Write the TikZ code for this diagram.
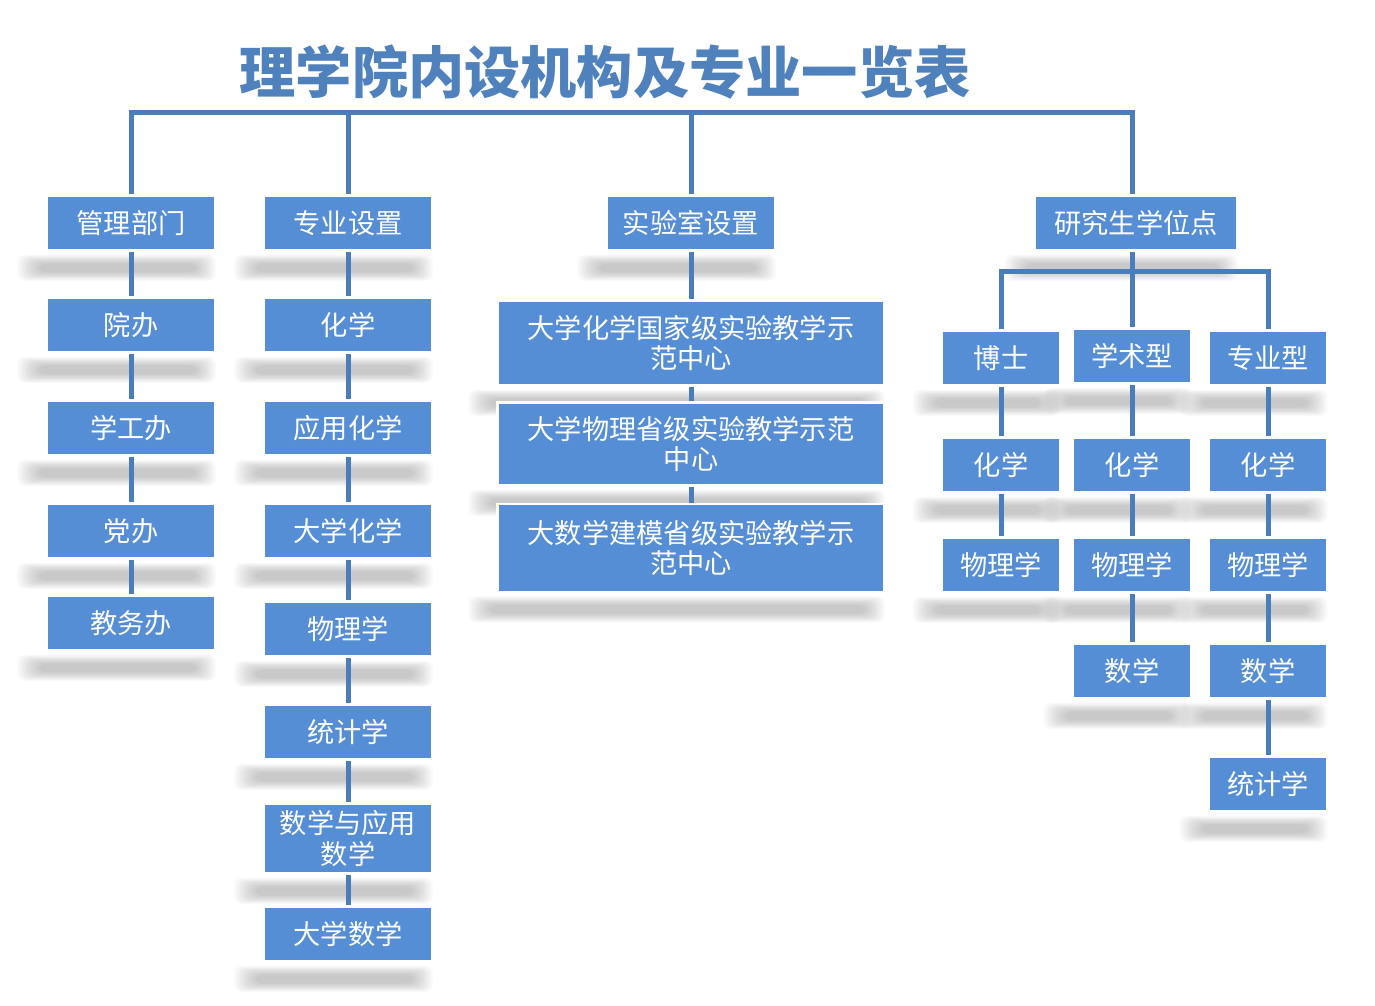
\documentclass[tikz,border=0pt]{standalone}
\usepackage{fontspec}
\setmainfont{Noto Sans CJK SC}
\usepackage{tikz}
\usetikzlibrary{calc,positioning,backgrounds}

\definecolor{boxblue}{HTML}{558ED5}
\definecolor{lineblue}{HTML}{4A7EBB}
\definecolor{titleblue}{HTML}{4F81BD}

\tikzset{
    unit/.style={draw=white, line width=1.6pt, fill=boxblue, text=white, inner sep=0pt,
        minimum width=3.38cm, minimum height=1.1cm, align=center,
        font=\fontsize{15.5}{17.6}\selectfont},
    wide/.style={unit, minimum width=7.74cm},
    small/.style={unit, minimum width=2.36cm},
    conn/.style={lineblue, line width=0.1cm},
}

\newcommand{\boxshadow}[1]{%
    \foreach \k in {0,...,11}
        \fill[black, opacity=0.021, rounded corners=4pt]
            ($(#1.south west)+(-28+2*\k,3+0.8*\k)$) rectangle
            ($(#1.south east)+(-1-1.8*\k,29-0.8*\k)$);
}

\begin{document}
\begin{tikzpicture}[x=0.02cm,y=-0.02cm]
            \useasboundingbox (0,0) rectangle (1375,1006);

            % title
            \node[text=titleblue, font=\fontsize{32}{36}\selectfont\bfseries] (title) at (605,72) {理学院内设机构及专业一览表};

            % management
            \node[unit] (glbm) at (131,223) {管理部门};
            \node[unit] (yb) at (131,325) {院办};
            \node[unit] (xgb) at (131,428) {学工办};
            \node[unit] (db) at (131,531) {党办};
            \node[unit] (jwb) at (131,623) {教务办};

            % majors
            \node[unit] (zysz) at (348,223) {专业设置};
            \node[unit] (hx) at (348,325) {化学};
            \node[unit] (yyhx) at (348,428) {应用化学};
            \node[unit] (dxhx) at (348,531) {大学化学};
            \node[unit] (wlx) at (348,629) {物理学};
            \node[unit] (tjx) at (348,732) {统计学};
            \node[unit, minimum height=1.4cm] (sxyy) at (348,838.5) {数学与应用\\数学};
            \node[unit] (dxsx) at (348,934) {大学数学};

            % labs
            \node[unit] (sys) at (691,223) {实验室设置};
            \node[wide, minimum height=1.7cm] (syone) at (691,343) {大学化学国家级实验教学示\\范中心};
            \node[wide, minimum height=1.66cm] (sytwo) at (691,444) {大学物理省级实验教学示范\\中心};
            \node[wide, minimum height=1.76cm] (sythree) at (691,548) {大数学建模省级实验教学示\\范中心};

            % graduate
            \node[unit, minimum width=4.06cm] (yjs) at (1136,223) {研究生学位点};
            \node[small] (bs) at (1001,358) {博士};
            \node[small] (xs) at (1132,356) {学术型};
            \node[small] (zy) at (1268,358) {专业型};
            \node[small] (bshx) at (1001,465) {化学};
            \node[small] (xshx) at (1132,465) {化学};
            \node[small] (zyhx) at (1268,465) {化学};
            \node[small] (bswl) at (1001,565) {物理学};
            \node[small] (xswl) at (1132,565) {物理学};
            \node[small] (zywl) at (1268,565) {物理学};
            \node[small] (xssx) at (1132,671) {数学};
            \node[small] (zysx) at (1268,671) {数学};
            \node[small] (zytj) at (1268,784) {统计学};

            \coordinate (bus) at (600,113);
            \coordinate (subbus) at (1132,272);

            \begin{scope}[on background layer]
                \foreach \n in {glbm,yb,xgb,db,jwb,zysz,hx,yyhx,dxhx,wlx,tjx,sxyy,dxsx,
                    sys,syone,sytwo,sythree,yjs,bs,xs,zy,bshx,xshx,zyhx,bswl,xswl,zywl,xssx,zysx,zytj}
                    \boxshadow{\n};

                \draw[conn] (glbm.north) |- (bus) -| (yjs.north -| subbus);
                \draw[conn] (zysz.north) -- (zysz.north |- bus);
                \draw[conn] (sys.north) -- (sys.north |- bus);

                \foreach \a/\b in {glbm/yb,yb/xgb,xgb/db,db/jwb,
                    zysz/hx,hx/yyhx,yyhx/dxhx,dxhx/wlx,wlx/tjx,tjx/sxyy,sxyy/dxsx,
                    sys/syone,syone/sytwo,sytwo/sythree,
                    bs/bshx,bshx/bswl,xs/xshx,xshx/xswl,xswl/xssx,
                    zy/zyhx,zyhx/zywl,zywl/zysx,zysx/zytj}
                    \draw[conn] (\a.south) -- (\b.north);

                \draw[conn] (yjs.south -| subbus) -- (xs.north);
                \draw[conn] (bs.north) |- (subbus) -| (zy.north);
            \end{scope}
        \end{tikzpicture}
\end{document}
